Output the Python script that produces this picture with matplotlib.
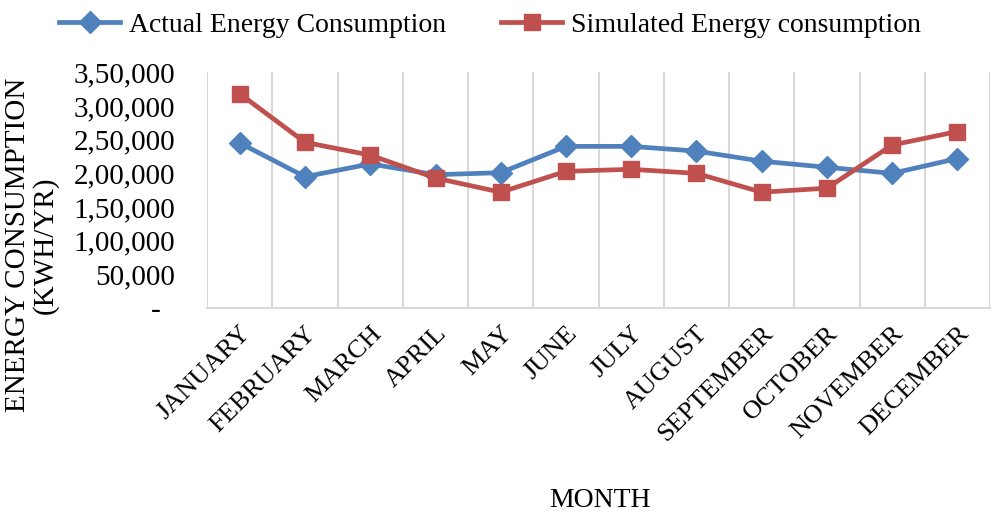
import matplotlib.pyplot as plt
from matplotlib.ticker import FuncFormatter, MultipleLocator
import numpy as np

# datos
meses = ["JANUARY", "FEBRUARY", "MARCH", "APRIL", "MAY", "JUNE", "JULY",
         "AUGUST", "SEPTEMBER", "OCTOBER", "NOVEMBER", "DECEMBER"]
actual = [245000, 195000, 214000, 198000, 201000, 240000, 240000,
          233000, 218000, 209000, 200000, 222000]
simulado = [318000, 246000, 227000, 193000, 172000, 203000, 206000,
            200000, 172000, 178000, 242000, 262000]


def formato_indio(v, pos=None):
    v = int(round(v))
    if v == 0:
        return "-  "
    s = str(v)
    ult = s[-3:]
    resto = s[:-3]
    partes = []
    while len(resto) > 2:
        partes.insert(0, resto[-2:])
        resto = resto[:-2]
    if resto:
        partes.insert(0, resto)
    return ",".join(partes + [ult])


plt.rcParams['font.family'] = ['Liberation Serif', 'DejaVu Serif']

fig = plt.figure(figsize=(9.96, 5.12), dpi=100)
ax = fig.add_axes([0.208, 0.398, 0.786, 0.461])

x = np.arange(len(meses))
ax.plot(x, actual, color="#4F81BD", lw=3.4, marker="D", ms=11,
        label="Actual Energy Consumption")
ax.plot(x, simulado, color="#C0504D", lw=3.4, marker="s", ms=12,
        label="Simulated Energy consumption")

ax.set_xlim(-0.5, len(meses) - 0.5)
ax.set_ylim(0, 350000)
ax.yaxis.set_major_locator(MultipleLocator(50000))
ax.yaxis.set_major_formatter(FuncFormatter(formato_indio))

ax.set_xticks(x)
ax.set_xticklabels(meses, rotation=45, ha="right", rotation_mode="anchor",
                   fontsize=19)
ax.set_xticks(np.arange(-0.5, len(meses), 1), minor=True)
ax.grid(True, which="minor", axis="x", color="#d9d9d9", lw=1.5)
ax.tick_params(axis="both", which="both", length=0)
ax.tick_params(axis="y", labelsize=21, pad=23)
ax.tick_params(axis="x", pad=10)

for lado in ["top", "right", "left"]:
    ax.spines[lado].set_visible(False)
ax.spines["bottom"].set_color("#d9d9d9")
ax.spines["bottom"].set_linewidth(1.5)

ax.set_ylabel("ENERGY CONSUMPTION\n(KWH/YR)", fontsize=21, linespacing=1.0)
ax.yaxis.set_label_coords(-0.19, 0.267)
fig.text(0.602, 0.01, "MONTH", ha="center", fontsize=20)

fig.legend(loc="upper center", bbox_to_anchor=(0.492, 1.025), ncol=2,
           frameon=False, fontsize=20, columnspacing=2.0, handlelength=2.2,
           handletextpad=0.3)

fig.savefig("out.png", dpi=100)
